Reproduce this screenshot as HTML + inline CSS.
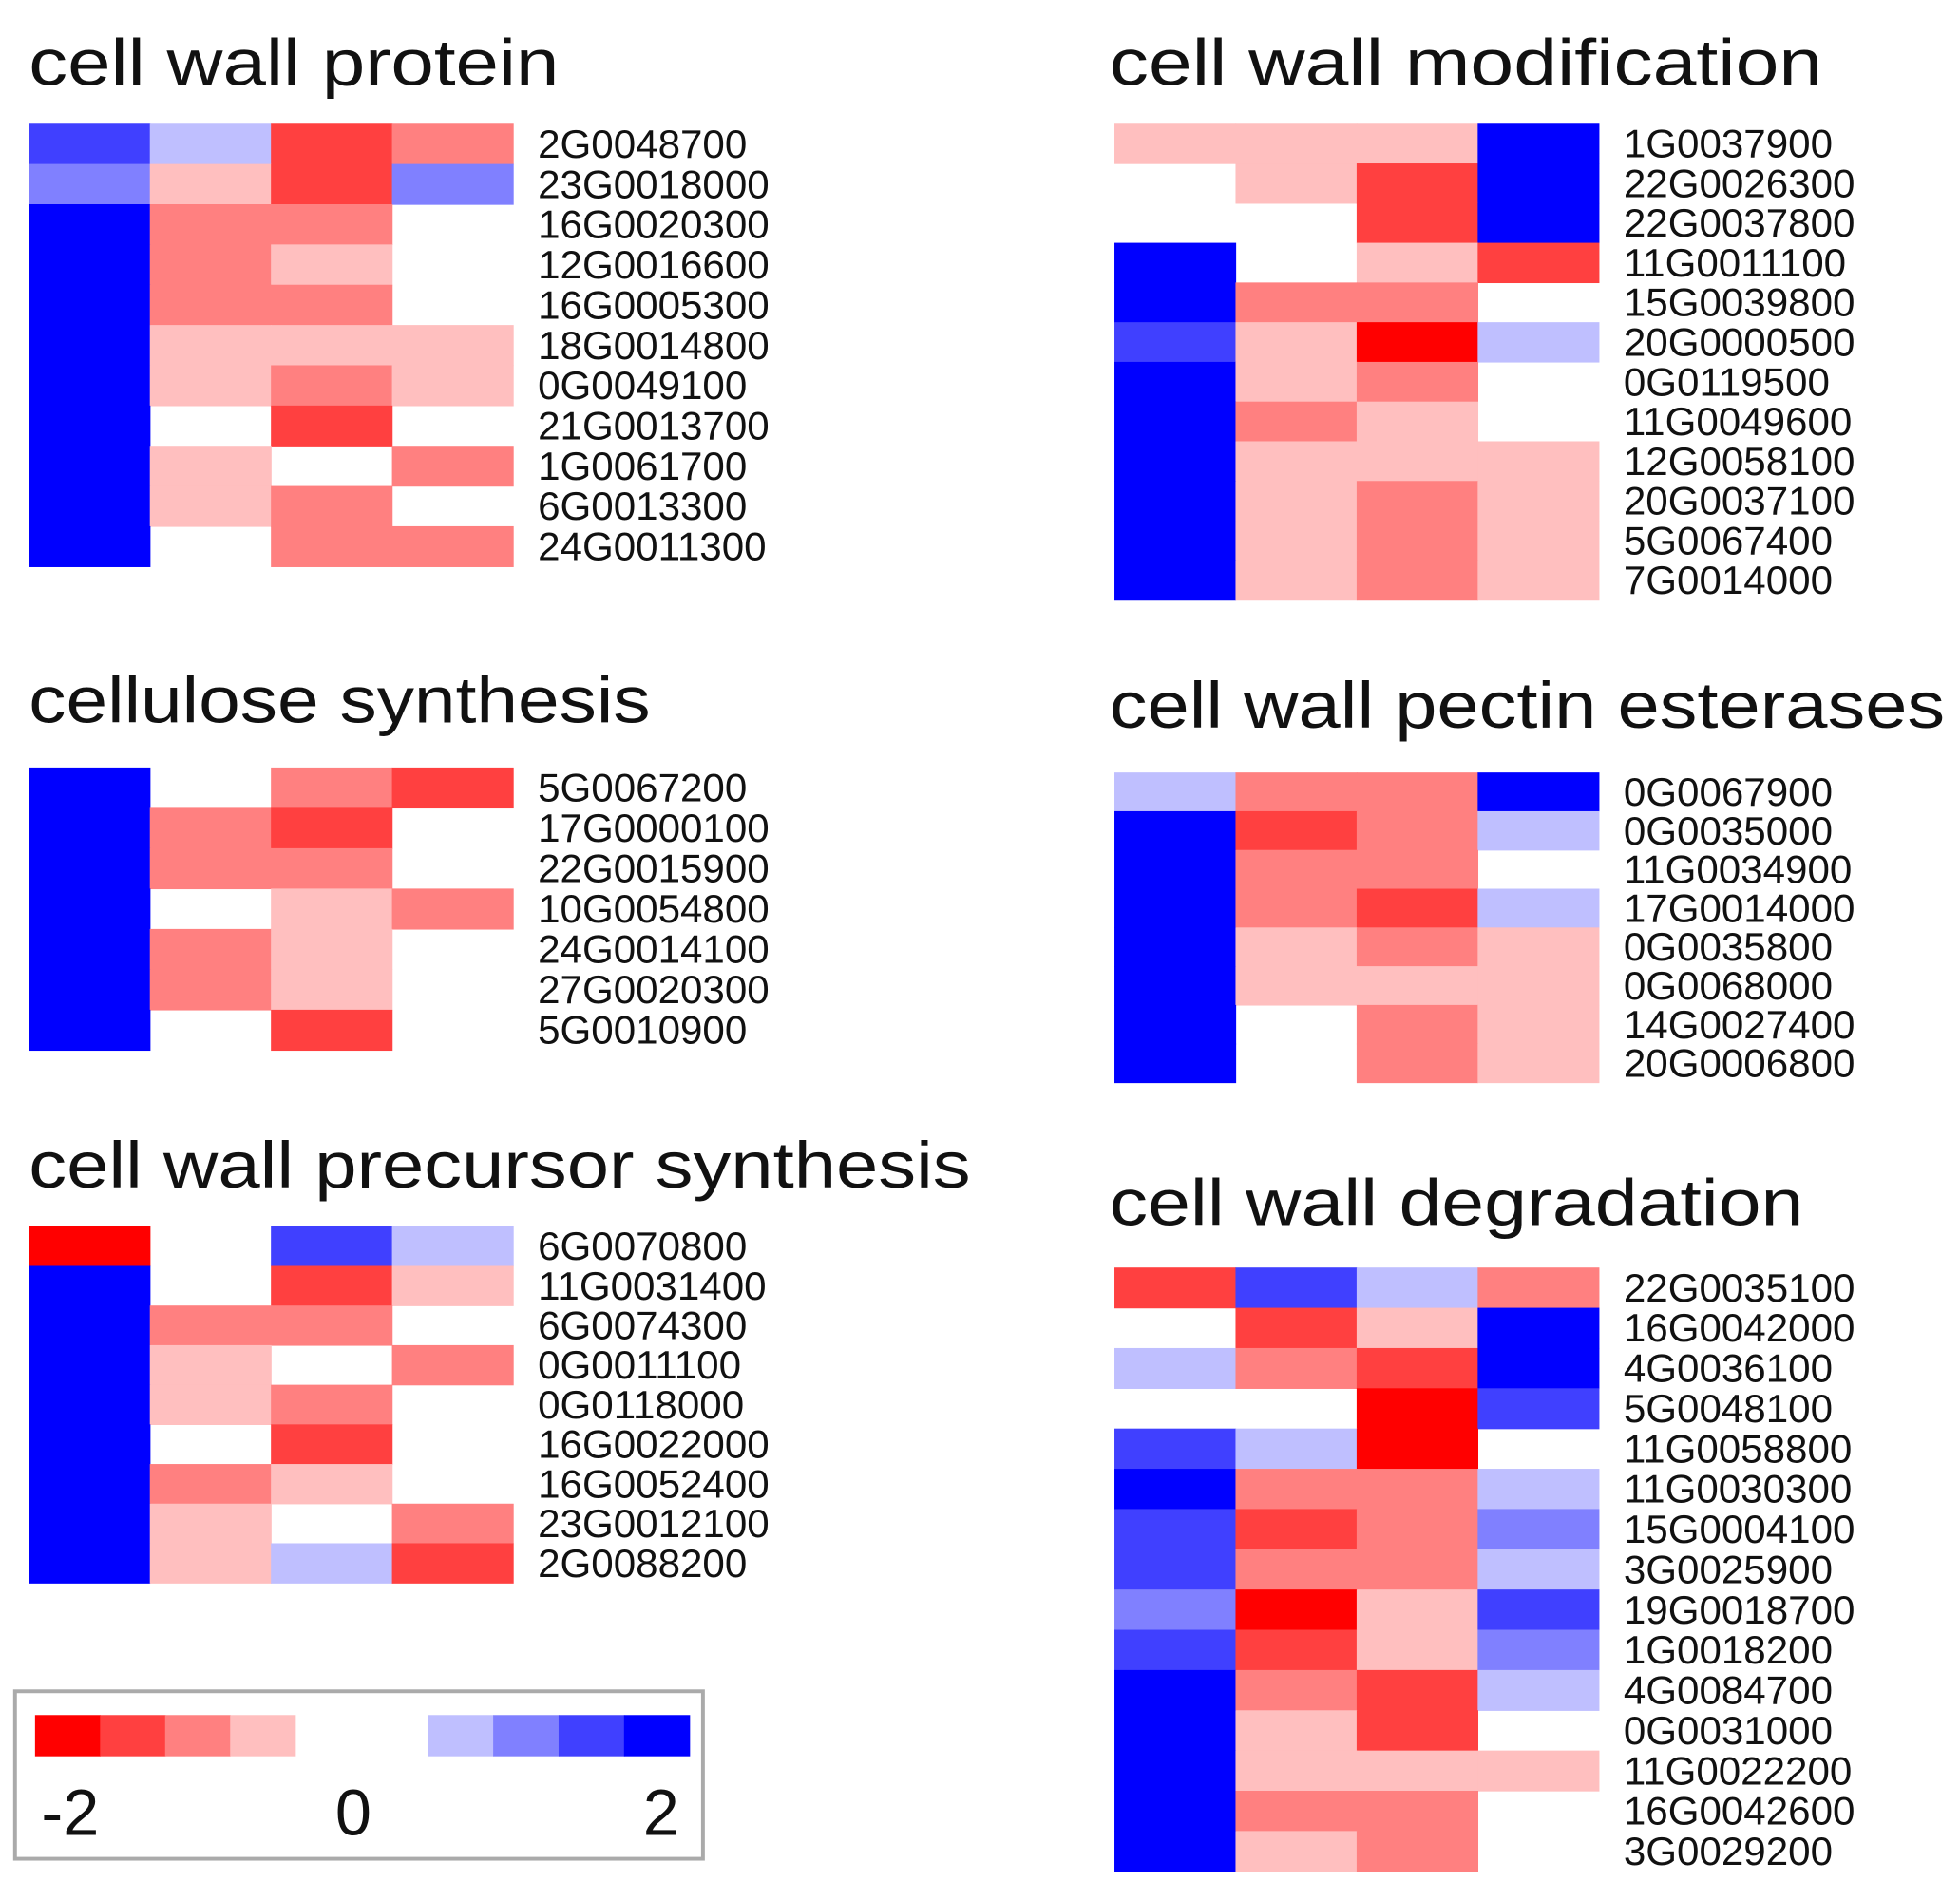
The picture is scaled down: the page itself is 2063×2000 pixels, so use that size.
<!DOCTYPE html>
<html><head><meta charset="utf-8"><style>html,body{margin:0;padding:0;background:#fff}svg{display:block}</style></head>
<body>
<svg id="s" width="2063" height="2000" viewBox="0 0 1567 1520" preserveAspectRatio="none" xmlns="http://www.w3.org/2000/svg" font-family="'Liberation Sans', sans-serif">
</svg>
<script>
const C={R4:'#ff0000',R3:'#ff4040',R2:'#ff8080',R1:'#ffbfbf',W:'#ffffff',B1:'#bfbfff',B2:'#8080ff',B3:'#4040ff',B4:'#0000ff'};
const P=[
{t:'cell wall protein',tx:23,ty:68,tw:424,x:23,y:99,h:32.2,lx:430,rows:[
['B3','B1','R3','R2','2G0048700'],['B2','R1','R3','B2','23G0018000'],['B4','R2','R2','W','16G0020300'],['B4','R2','R1','W','12G0016600'],['B4','R2','R2','W','16G0005300'],['B4','R1','R1','R1','18G0014800'],['B4','R1','R2','R1','0G0049100'],['B4','W','R3','W','21G0013700'],['B4','R1','W','R2','1G0061700'],['B4','R1','R2','W','6G0013300'],['B4','W','R2','R2','24G0011300']]},
{t:'cell wall modification',tx:887,ty:68,tw:570,x:891,y:99,h:31.75,lx:1298,rows:[
['R1','R1','R1','B4','1G0037900'],['W','R1','R3','B4','22G0026300'],['W','W','R3','B4','22G0037800'],['B4','W','R1','R3','11G0011100'],['B4','R2','R2','W','15G0039800'],['B3','R1','R4','B1','20G0000500'],['B4','R1','R2','W','0G0119500'],['B4','R2','R1','W','11G0049600'],['B4','R1','R1','R1','12G0058100'],['B4','R1','R2','R1','20G0037100'],['B4','R1','R2','R1','5G0067400'],['B4','R1','R2','R1','7G0014000']]},
{t:'cellulose synthesis',tx:23,ty:578,tw:497,x:23,y:614,h:32.3,lx:430,rows:[
['B4','W','R2','R3','5G0067200'],['B4','R2','R3','W','17G0000100'],['B4','R2','R2','W','22G0015900'],['B4','W','R1','R2','10G0054800'],['B4','R2','R1','W','24G0014100'],['B4','R2','R1','W','27G0020300'],['B4','W','R3','W','5G0010900']]},
{t:'cell wall pectin esterases',tx:887,ty:582,tw:668,x:891,y:618,h:31,lx:1298,rows:[
['B1','R2','R2','B4','0G0067900'],['B4','R3','R2','B1','0G0035000'],['B4','R2','R2','W','11G0034900'],['B4','R2','R3','B1','17G0014000'],['B4','R1','R2','R1','0G0035800'],['B4','R1','R1','R1','0G0068000'],['B4','W','R2','R1','14G0027400'],['B4','W','R2','R1','20G0006800']]},
{t:'cell wall precursor synthesis',tx:23,ty:950,tw:753,x:23,y:981,h:31.7,lx:430,rows:[
['R4','W','B3','B1','6G0070800'],['B4','W','R3','R1','11G0031400'],['B4','R2','R2','W','6G0074300'],['B4','R1','W','R2','0G0011100'],['B4','R1','R2','W','0G0118000'],['B4','W','R3','W','16G0022000'],['B4','R2','R1','W','16G0052400'],['B4','R1','W','R2','23G0012100'],['B4','R1','B1','R3','2G0088200']]},
{t:'cell wall degradation',tx:887,ty:980,tw:555,x:891,y:1014,h:32.2,lx:1298,rows:[
['R3','B3','B1','R2','22G0035100'],['W','R3','R1','B4','16G0042000'],['B1','R2','R3','B4','4G0036100'],['W','W','R4','B3','5G0048100'],['B3','B1','R4','W','11G0058800'],['B4','R2','R2','B1','11G0030300'],['B3','R3','R2','B2','15G0004100'],['B3','R2','R2','B1','3G0025900'],['B2','R4','R1','B3','19G0018700'],['B3','R3','R1','B2','1G0018200'],['B4','R2','R3','B1','4G0084700'],['B4','R1','R3','W','0G0031000'],['B4','R1','R1','R1','11G0022200'],['B4','R2','R2','W','16G0042600'],['B4','R1','R2','W','3G0029200']]}
];
let s='';
for(const p of P){
 s+=`<text x="${p.tx}" y="${p.ty}" font-size="52" textLength="${p.tw}" lengthAdjust="spacingAndGlyphs" fill="#111">${p.t}</text>`;
 p.rows.forEach((r,i)=>{
  const y=p.y+i*p.h;
  for(let j=0;j<4;j++) if(r[j]!=='W') s+=`<rect x="${p.x+j*96.8}" y="${y}" width="97.3" height="${p.h+0.5}" fill="${C[r[j]]}"/>`;
  s+=`<text x="${p.lx}" y="${y+p.h/2+11}" font-size="32" fill="#111">${r[4]}</text>`;
 });
}
s+=`<rect x="12" y="1353" width="550" height="134" fill="none" stroke="#aaa" stroke-width="3"/>`;
['R4','R3','R2','R1'].forEach((c,i)=>s+=`<rect x="${28+i*52}" y="1372" width="52.5" height="33" fill="${C[c]}"/>`);
['B1','B2','B3','B4'].forEach((c,i)=>s+=`<rect x="${342+i*52.3}" y="1372" width="52.8" height="33" fill="${C[c]}"/>`);
s+=`<text x="33" y="1468" font-size="52" fill="#111">-2</text><text x="268" y="1468" font-size="52" fill="#111">0</text><text x="514" y="1468" font-size="52" fill="#111">2</text>`;
document.getElementById('s').innerHTML=s;
</script>
</body></html>
